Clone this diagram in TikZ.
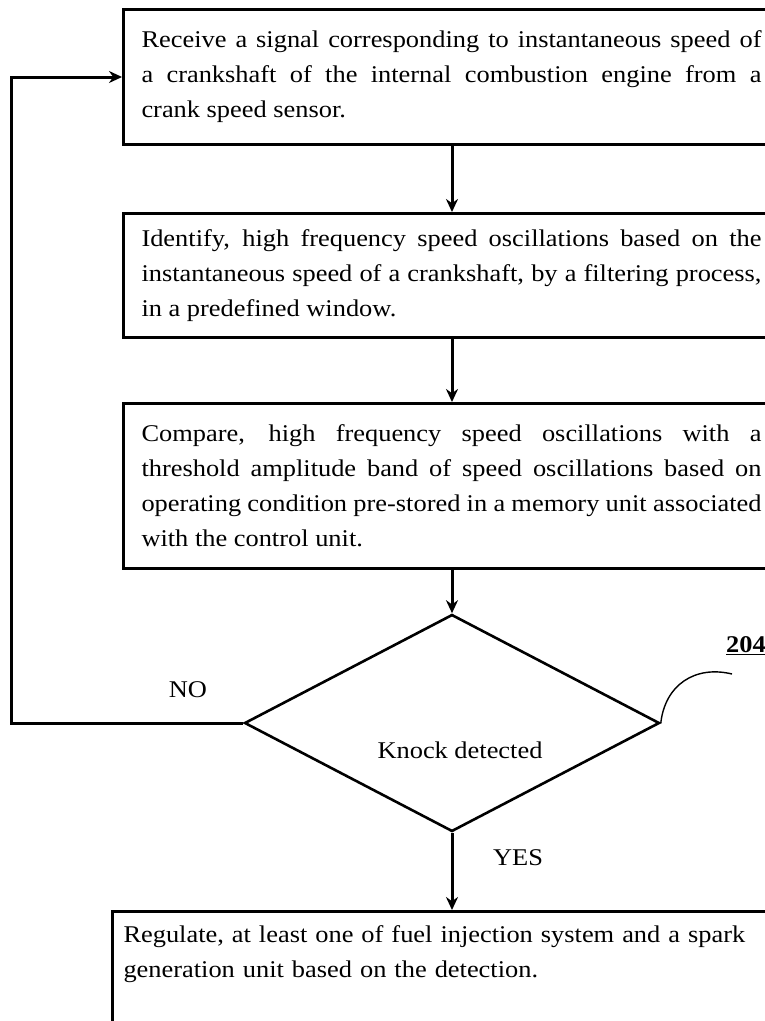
\documentclass[tikz,border=0pt]{standalone}
\usepackage{fontspec}
\setmainfont[FakeStretch=1.1]{Liberation Serif}
\usetikzlibrary{shapes.geometric, arrows.meta}
\tikzstyle{process} = [rectangle, anchor=north west, draw=black, line width=3pt, text width=620pt, inner xsep=18pt, align=justify, font=\fontsize{24}{35}\selectfont]
\tikzstyle{decision} = [diamond, draw=black, line width=2.6pt, minimum width=415pt, minimum height=217pt, aspect=1.91, inner sep=0pt]
\tikzstyle{arrow} = [line width=3pt, -{Stealth[length=13pt, width=12pt]}]
\tikzstyle{tag} = [font=\fontsize{24}{28}\selectfont]

\begin{document}
\begin{tikzpicture}[x=1pt, y=-1pt]
\useasboundingbox (0,0) rectangle (765,1021);
\clip (0,0) rectangle (765,1021);

\node (receive) [process, minimum height=135pt] at (122,8) {Receive a signal corresponding to instantaneous speed of\linebreak a crankshaft of the internal combustion engine from a\linebreak crank speed sensor.};
\node (identify) [process, minimum height=124pt] at (122,212) {Identify, high frequency speed oscillations based on the\linebreak instantaneous speed of a crankshaft, by a filtering process,\linebreak in a predefined window.};
\node (compare) [process, minimum height=165pt] at (122,402) {Compare, high frequency speed oscillations with a\linebreak threshold amplitude band of speed oscillations based on\linebreak operating condition pre-stored in a memory unit associated\linebreak with the control unit.};
\node (knock) [decision] at (452,723) {};
\node (knocktxt) [tag] at (460,750) {Knock detected};
\node (regulate) [process, text width=660pt, inner xsep=11pt, inner ysep=14pt, align=left] at (111,910) {Regulate, at least one of fuel injection system and a spark\\ generation unit based on the detection.\par\vspace*{80pt}\mbox{}};

\node (no) [tag] at (188,690) {NO};
\node (yes) [tag] at (518,858) {YES};
\node (ref) [tag, font=\bfseries\fontsize{24}{28}\selectfont] at (746,646) {\underline{204}};
\coordinate (refend) at (732,674);

\draw [arrow] (receive.south -| knock.north) -- (identify.north -| knock.north);
\draw [arrow] (identify.south -| knock.north) -- (compare.north -| knock.north);
\draw [arrow] (compare.south -| knock.north) -- (knock.north);
\draw [arrow] (knock.south) -- (regulate.north -| knock.south);
\draw [arrow] (knock.west) -- ++(-232,0) |- (receive.west);
\draw [line width=1.4pt] (knock.east) .. controls (665,685) and (695,665) .. (refend);

\end{tikzpicture}
\end{document}
